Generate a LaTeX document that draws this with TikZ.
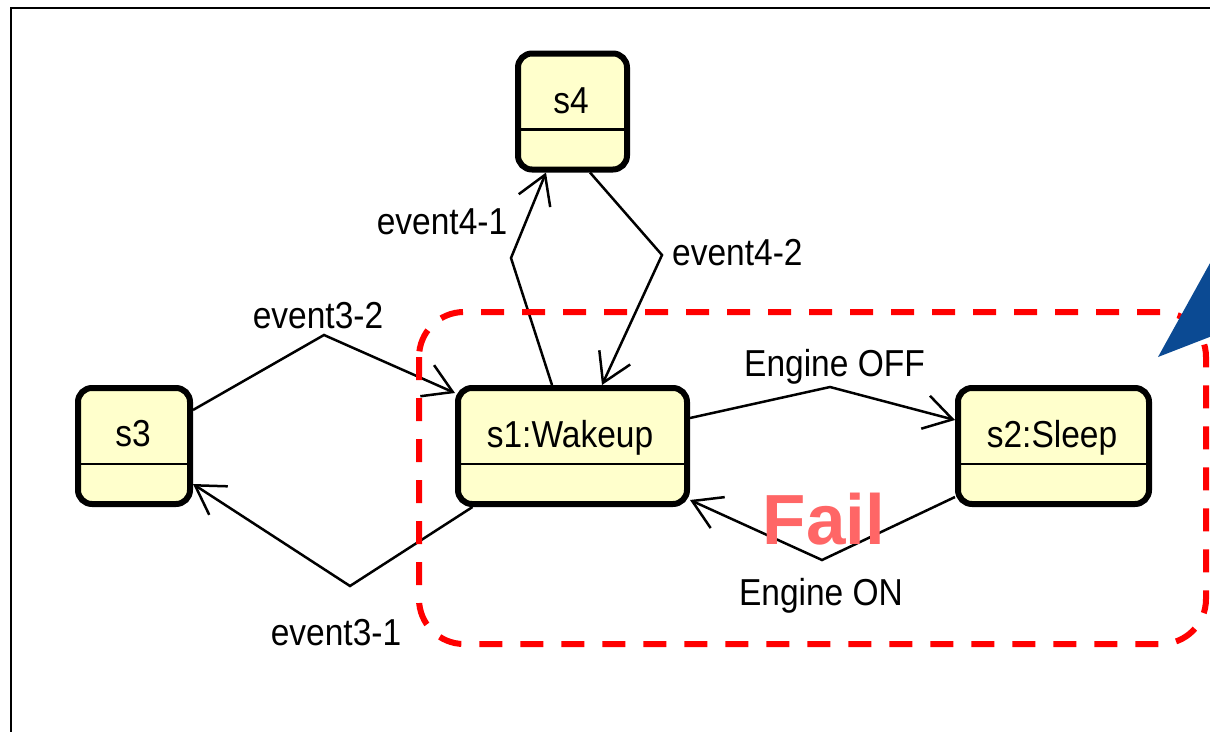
\documentclass[tikz,border=0pt]{standalone}
\usepackage{fontspec}
\setmainfont{Liberation Sans}
\usetikzlibrary{arrows.meta}
\definecolor{statefill}{RGB}{255,255,204}
\definecolor{failred}{RGB}{255,102,102}
\definecolor{cornerblue}{RGB}{11,74,147}
% labels are set slightly taller than the regular face
\newcommand\tallText[1]{\scalebox{1}[1.12]{#1}}
\begin{document}
\begin{tikzpicture}[x=1pt,y=-1pt,
  statebox/.style={draw=black, line width=6pt, fill=statefill, rounded corners=14pt,
    inner sep=0pt, minimum height=116pt,
    path picture={\draw[line width=2.2pt]
      ([yshift=-76pt]path picture bounding box.north west) --
      ([yshift=-76pt]path picture bounding box.north east);}},
  txt/.style={font=\fontsize{33.5pt}{40pt}\selectfont, inner sep=0pt, anchor=base},
  trans/.style={line width=2.5pt, -{Straight Barb[length=28pt,width=34pt]}},
  failnote/.style={font=\fontsize{71pt}{80pt}\selectfont\bfseries, text=failred,
    inner sep=0pt, anchor=base}]
% canvas
\clip (0,0) rectangle (1210,731);
\fill[white] (0,0) rectangle (1210,731);
\draw[line width=2pt] (11,745) -- (11,8) -- (1225,8);

% states
\node[statebox, minimum width=229pt] (s1) at (572.5,446) {};
\node[statebox, minimum width=191pt] (s2) at (1053.5,446) {};
\node[statebox, minimum width=112pt] (s3) at (134,446) {};
\node[statebox, minimum width=109pt] (s4) at (572.5,111.5) {};
\node[txt] (s1-name) at (570,447) {\tallText{s1:Wakeup}};
\node[txt] (s2-name) at (1052,447) {\tallText{s2:Sleep}};
\node[txt] (s3-name) at (133,446) {\tallText{s3}};
\node[txt] (s4-name) at (571,113) {\tallText{s4}};

% bend points of the transitions
\coordinate (b41) at (511,258);
\coordinate (b42) at (662,255);
\coordinate (b32) at (324,335);
\coordinate (b31) at (350,586);
\coordinate (boff) at (830,387);
\coordinate (bon) at (822,560);

% transitions
\draw[trans] ([xshift=-20.5pt]s1.north) -- (b41) -- ([xshift=-26.5pt]s4.south);
\draw[trans] ([xshift=17.5pt]s4.south) -- (b42) -- ([xshift=29.5pt]s1.north);
\draw[trans] ([yshift=36pt]s3.east) -- (b32) -- ([yshift=53pt]s1.west);
\draw[trans] ([xshift=-100pt]s1.south) -- (b31) -- ([yshift=-38pt]s3.east);
\draw[trans] ([yshift=28pt]s1.east) -- (boff) -- ([yshift=26pt]s2.west);
\draw[trans] ([yshift=-51pt]s2.west) -- (bon) -- ([yshift=-54pt]s1.east);

% transition labels
\node[txt] (l41) at (442,234) {\tallText{event4-1}};
\node[txt, anchor=base west] (l42) at (672,265) {\tallText{event4-2}};
\node[txt] (l32) at (318,328) {\tallText{event3-2}};
\node[txt] (l31) at (336,645) {\tallText{event3-1}};
\node[txt] (loff) at (834.5,376) {\tallText{Engine OFF}};
\node[txt] (lon) at (821,605) {\tallText{Engine ON}};

% failure region
\draw[red, line width=6pt, dash pattern=on 23pt off 18pt, rounded corners=45pt]
  (419,312) rectangle (1206,644);
\node[failnote] (fail) at (824,544) {Fail};

% callout corner
\fill[cornerblue] (1158,357) -- (1225,236) -- (1225,331) -- cycle;
\end{tikzpicture}
\end{document}
